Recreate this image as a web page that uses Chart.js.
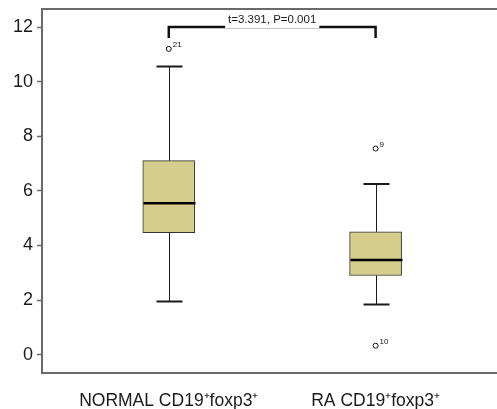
<!DOCTYPE html>
<html>
<head>
<meta charset="utf-8">
<script src="https://cdn.jsdelivr.net/npm/chart.js@4"></script>
<style>
  body { margin: 0; background: #fff; overflow: hidden; }
  canvas { display: block; }
</style>
</head>
<body>
<canvas id="box" width="497" height="409"></canvas>
<script>
// group labels and box statistics
const categories = ["NORMAL CD19\u207Afoxp3\u207A", "RA CD19\u207Afoxp3\u207A"];
const groupPos = [1, 2];
const whiskerLow = [1.95, 1.84];
const q1 = [4.47, 2.9];
const median = [5.55, 3.47];
const q3 = [7.11, 4.5];
const whiskerHigh = [10.55, 6.25];

// outliers: group index, value, case id
const outlierGroup = [0, 1, 1];
const outlierValues = [11.2, 7.55, 0.33];
const outlierIds = ["21", "9", "10"];

const yTicks = [0, 2, 4, 6, 8, 10, 12];

// significance bracket
const testLabel = "t=3.391, P=0.001";
const bracketTop = 12;
const bracketFoot = 11.6;

const FONT = "'Liberation Sans', Arial, sans-serif";

const boxExtras = {
  id: "boxExtras",
  afterDatasetsDraw(chart) {
    const { ctx, chartArea, scales: { x, y } } = chart;
    ctx.save();

    // top frame line
    ctx.strokeStyle = "#6a6a6a";
    ctx.lineWidth = 2;
    ctx.beginPath();
    ctx.moveTo(chartArea.left, chartArea.top);
    ctx.lineTo(chartArea.right, chartArea.top);
    ctx.stroke();

    // whiskers, caps, medians
    groupPos.forEach((g, i) => {
      const cx = Math.round(x.getPixelForValue(g)) + 0.5;
      const capHalf = 13;
      const boxHalf = 26;
      ctx.strokeStyle = "#1a1a1a";
      ctx.lineWidth = 1;
      ctx.beginPath();
      ctx.moveTo(cx, y.getPixelForValue(q3[i]));
      ctx.lineTo(cx, y.getPixelForValue(whiskerHigh[i]));
      ctx.moveTo(cx, y.getPixelForValue(q1[i]));
      ctx.lineTo(cx, y.getPixelForValue(whiskerLow[i]));
      ctx.stroke();
      ctx.lineWidth = 2;
      ctx.beginPath();
      ctx.moveTo(cx - capHalf, y.getPixelForValue(whiskerHigh[i]));
      ctx.lineTo(cx + capHalf, y.getPixelForValue(whiskerHigh[i]));
      ctx.moveTo(cx - capHalf, y.getPixelForValue(whiskerLow[i]));
      ctx.lineTo(cx + capHalf, y.getPixelForValue(whiskerLow[i]));
      ctx.stroke();
      ctx.strokeStyle = "#000";
      ctx.lineWidth = 2.5;
      ctx.beginPath();
      ctx.moveTo(cx - boxHalf, y.getPixelForValue(median[i]));
      ctx.lineTo(cx + boxHalf, y.getPixelForValue(median[i]));
      ctx.stroke();
    });

    // outlier case ids
    ctx.fillStyle = "#111";
    ctx.font = "8px " + FONT;
    ctx.textAlign = "left";
    ctx.textBaseline = "alphabetic";
    outlierValues.forEach((v, k) => {
      const px = x.getPixelForValue(groupPos[outlierGroup[k]]);
      ctx.fillText(outlierIds[k], px + 4, y.getPixelForValue(v) - 2);
    });

    // bracket
    const x1 = x.getPixelForValue(groupPos[0]);
    const x2 = x.getPixelForValue(groupPos[1]);
    const yt = y.getPixelForValue(bracketTop);
    const yf = y.getPixelForValue(bracketFoot);
    ctx.strokeStyle = "#111";
    ctx.lineWidth = 2.5;
    ctx.beginPath();
    ctx.moveTo(x1, yf);
    ctx.lineTo(x1, yt);
    ctx.lineTo(x2, yt);
    ctx.lineTo(x2, yf);
    ctx.stroke();
    ctx.font = "11.5px " + FONT;
    const tw = ctx.measureText(testLabel).width;
    const mid = (x1 + x2) / 2;
    ctx.fillStyle = "#fff";
    ctx.fillRect(mid - tw / 2 - 3, yt - 14, tw + 6, 15);
    ctx.fillStyle = "#1a1a1a";
    ctx.textAlign = "center";
    ctx.textBaseline = "alphabetic";
    ctx.fillText(testLabel, mid, yt - 4);

    ctx.restore();
  }
};

new Chart(document.getElementById("box"), {
  type: "bar",
  data: {
    datasets: [
      {
        label: "box",
        data: groupPos.map((g, i) => ({ x: g, y: [q1[i], q3[i]] })),
        backgroundColor: "#d5cd8c",
        borderColor: "#333",
        borderWidth: 1,
        borderSkipped: false,
        barThickness: 52,
      },
      {
        type: "scatter",
        label: "outliers",
        data: outlierValues.map((v, k) => ({ x: groupPos[outlierGroup[k]], y: v })),
        pointRadius: 2.5,
        pointBorderWidth: 1,
        pointBackgroundColor: "#fff",
        pointBorderColor: "#111",
      },
    ],
  },
  options: {
    responsive: false,
    animation: false,
    layout: { autoPadding: false, padding: { top: 9, right: 0, left: 0, bottom: 0 } },
    plugins: { legend: { display: false }, tooltip: { enabled: false } },
    scales: {
      x: {
        type: "linear",
        offset: false,
        min: 0.387,
        max: 2.587,
        afterBuildTicks: (s) => { s.ticks = groupPos.map((v) => ({ value: v })); },
        afterFit: (s) => { s.height = 36; s.paddingLeft = 0; s.paddingRight = 0; },
        grid: { display: false },
        border: { color: "#6a6a6a", width: 2 },
        ticks: {
          callback: (v) => categories[groupPos.indexOf(v)],
          color: "#1a1a1a",
          font: { family: FONT, size: 17.5 },
          padding: 10,
          maxRotation: 0,
          autoSkip: false,
        },
      },
      y: {
        min: -0.67,
        max: 12.66,
        afterBuildTicks: (s) => { s.ticks = yTicks.map((v) => ({ value: v })); },
        afterFit: (s) => { s.width = 42; s.paddingTop = 0; s.paddingBottom = 0; },
        grid: { drawOnChartArea: false, tickLength: 5, tickColor: "#6a6a6a", tickWidth: 1.5 },
        border: { color: "#6a6a6a", width: 2 },
        ticks: {
          color: "#1a1a1a",
          font: { family: FONT, size: 18 },
          padding: 4,
        },
      },
    },
  },
  plugins: [boxExtras],
});
</script>
</body>
</html>
